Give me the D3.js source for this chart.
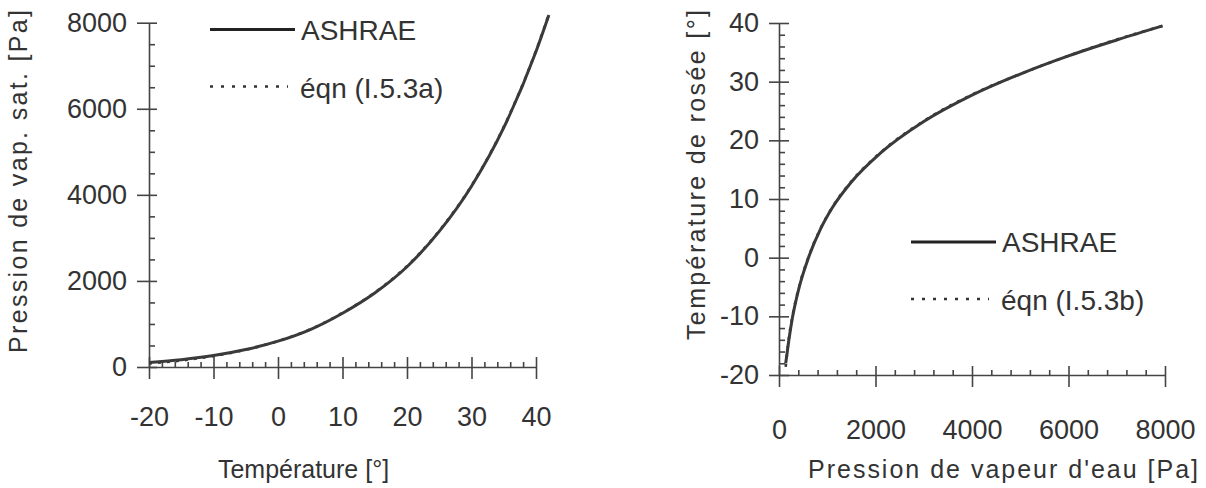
<!DOCTYPE html>
<html>
<head>
<meta charset="utf-8">
<script src="https://cdn.jsdelivr.net/npm/d3@7"></script>
<style>
  body { margin: 0; background: #fff; }
  svg { display: block; }
  .ax path, .ax line { stroke: #444; stroke-width: 1.6; }
  text { font-family: "Liberation Sans", Arial, sans-serif; fill: #333; }
</style>
</head>
<body>
<svg id="chart" width="1206" height="488"></svg>
<script>
// left chart: saturation pressure vs temperature
const tempC = [-20, -15, -10, -5, 0, 5, 10, 15, 20, 25, 30, 35, 40, 42];
const pSatAshrae = [105, 170, 265, 405, 600, 870, 1250, 1720, 2330, 3150, 4200, 5560, 7330, 8180];
const pSatEqn = [80, 150, 255, 400, 602, 875, 1258, 1730, 2345, 3165, 4215, 5580, 7350, 8200];

// right chart: dew point vs vapour pressure
const pVap = [139, 200, 277, 420, 611, 862, 1104, 1500, 2100, 3000, 4000, 5000, 6000, 7000, 7950];
const dewAshrae = [-18, -14.3, -10.3, -5, 0, 4.9, 8.5, 12.9, 17.8, 23.2, 27.7, 31.3, 34.4, 37.1, 39.5];
const dewEqn = [-18.6, -14, -10.1, -4.8, 0.1, 5, 8.6, 13, 17.9, 23.3, 27.8, 31.3, 34.4, 37.2, 39.5];

const leftXTicks = [-20, -10, 0, 10, 20, 30, 40];
const leftYTicks = [0, 2000, 4000, 6000, 8000];
const rightXTicks = [0, 2000, 4000, 6000, 8000];
const rightYTicks = [-20, -10, 0, 10, 20, 30, 40];

const svg = d3.select('#chart');
const fmt = d => String(d);

function minorOf(major, step) {
    const lo = major[0], hi = major[major.length - 1];
    return d3.range(lo, hi + step / 2, step).filter(v => !major.includes(v));
}

function axes(x, y, o) {
    const y0 = y.range()[0], x0 = x.range()[0];

    // x axis, major ticks crossing the line
    svg.append('g').attr('class', 'ax')
        .attr('transform', `translate(0,${y0})`)
        .call(d3.axisBottom(x).tickValues(o.xMajor).tickSizeInner(12).tickSizeOuter(0)
            .tickPadding(o.xPad).tickFormat(fmt))
        .call(g => g.selectAll('.tick line').attr('y1', -o.xUp))
        .call(g => g.selectAll('text').attr('font-size', 27));
    svg.append('g').attr('class', 'ax')
        .attr('transform', `translate(0,${y0})`)
        .call(d3.axisTop(x).tickValues(minorOf(o.xMajor, o.xMinor)).tickSize(5).tickFormat(''))
        .call(g => g.select('.domain').remove());

    // y axis
    svg.append('g').attr('class', 'ax')
        .attr('transform', `translate(${x0},0)`)
        .call(d3.axisLeft(y).tickValues(o.yMajor).tickSizeInner(o.yLeft).tickSizeOuter(0)
            .tickPadding(10).tickFormat(fmt))
        .call(g => g.selectAll('.tick line').attr('x1', o.yRight))
        .call(g => g.selectAll('text').attr('font-size', 27));
    svg.append('g').attr('class', 'ax')
        .attr('transform', `translate(${x0},0)`)
        .call(d3.axisRight(y).tickValues(minorOf(o.yMajor, o.yMinor)).tickSize(6).tickFormat(''))
        .call(g => g.select('.domain').remove());
}

function curves(xs, ys, x, y) {
    const line = d3.line().x(d => x(d[0])).y(d => y(d[1])).curve(d3.curveMonotoneX);
    svg.append('path').datum(d3.zip(xs, ys.solid))
        .attr('d', line).attr('fill', 'none')
        .attr('stroke', '#3a3a3a').attr('stroke-width', 3);
    svg.append('path').datum(d3.zip(xs, ys.dotted))
        .attr('d', line).attr('fill', 'none')
        .attr('stroke', '#3a3a3a').attr('stroke-width', 2.6)
        .attr('stroke-dasharray', '3,6');
}

function legend(lx, ly, label2) {
    svg.append('line').attr('x1', lx).attr('x2', lx + 85).attr('y1', ly).attr('y2', ly)
        .attr('stroke', '#222').attr('stroke-width', 3);
    svg.append('text').attr('x', lx + 91).attr('y', ly + 10).attr('font-size', 28).text('ASHRAE');
    svg.append('line').attr('x1', lx).attr('x2', lx + 78).attr('y1', ly + 57).attr('y2', ly + 57)
        .attr('stroke', '#333').attr('stroke-width', 2.4).attr('stroke-dasharray', '3,8');
    svg.append('text').attr('x', lx + 90).attr('y', ly + 68).attr('font-size', 28).text(label2);
}

// ---- left chart
const xL = d3.scaleLinear().domain([-20, 40]).range([149, 536]);
const yL = d3.scaleLinear().domain([0, 8000]).range([367, 22.7]);
axes(xL, yL, { xMajor: leftXTicks, xMinor: 2, xPad: 28, xUp: 10,
               yMajor: leftYTicks, yMinor: 500, yLeft: 12, yRight: 8 });
curves(tempC, { solid: pSatAshrae, dotted: pSatEqn }, xL, yL);
legend(210, 29.5, 'éqn (I.5.3a)');

svg.append('text').attr('x', 303.5).attr('y', 478).attr('text-anchor', 'middle')
    .attr('font-size', 25).text('Température [°]');
svg.append('text').attr('transform', 'translate(27,181.5) rotate(-90)')
    .attr('text-anchor', 'middle').attr('font-size', 25)
    .attr('textLength', 343).attr('lengthAdjust', 'spacing')
    .text('Pression de vap. sat. [Pa]');

// ---- right chart
const xR = d3.scaleLinear().domain([0, 8000]).range([779, 1165]);
const yR = d3.scaleLinear().domain([-20, 40]).range([375, 23]);
axes(xR, yR, { xMajor: rightXTicks, xMinor: 400, xPad: 33, xUp: 9,
               yMajor: rightYTicks, yMinor: 2, yLeft: 10, yRight: 10 });
curves(pVap, { solid: dewAshrae, dotted: dewEqn }, xR, yR);
legend(911, 242, 'éqn (I.5.3b)');

svg.append('text').attr('x', 1003).attr('y', 478).attr('text-anchor', 'middle')
    .attr('font-size', 25).attr('textLength', 390).attr('lengthAdjust', 'spacing')
    .text("Pression de vapeur d'eau [Pa]");
svg.append('text').attr('transform', 'translate(705,175) rotate(-90)')
    .attr('text-anchor', 'middle').attr('font-size', 25)
    .attr('textLength', 330).attr('lengthAdjust', 'spacing')
    .text('Température de rosée [°]');
</script>
</body>
</html>
